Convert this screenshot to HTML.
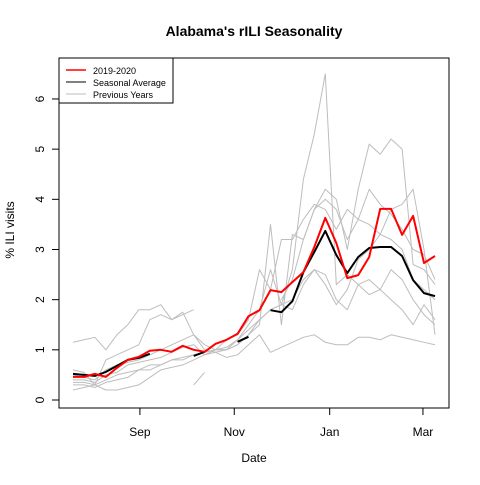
<!DOCTYPE html>
<html><head><meta charset="utf-8"><style>
body{margin:0;background:#fff;}
svg{font-family:"Liberation Sans",sans-serif;}
</style></head><body>
<svg id="chart" width="480" height="480" xmlns="http://www.w3.org/2000/svg">
<rect width="480" height="480" fill="#fff"/>
<text x="254" y="36" text-anchor="middle" font-size="14" font-weight="bold">Alabama's rILI Seasonality</text>
<text x="254" y="462" text-anchor="middle" font-size="12">Date</text>
<text x="14" y="230" text-anchor="middle" font-size="12" transform="rotate(-90 14 230)">% ILI visits</text>
<g id="grays"></g>
<g id="avg"></g>
<g id="cur"></g>
<g id="axes"></g>
<rect x="59" y="58" width="390" height="350" fill="none" stroke="#000"/>
<g>
<rect x="59" y="58" width="114" height="45" fill="#fff" stroke="#000"/>
<line x1="66" y1="70" x2="86" y2="70" stroke="#f00" stroke-width="1.5"/>
<text x="93" y="74" font-size="9">2019-2020</text>
<line x1="66" y1="82" x2="86" y2="82" stroke="#000"/>
<text x="93" y="86" font-size="9">Seasonal Average</text>
<line x1="66" y1="94" x2="86" y2="94" stroke="#bbb"/>
<text x="93" y="98" font-size="9">Previous Years</text>
</g>
</svg>
<script>
const current=[0.46,0.46,0.52,0.46,0.64,0.80,0.86,0.98,1.0,0.96,1.08,1.0,0.96,1.12,1.2,1.32,1.67,1.79,2.19,2.15,2.35,2.55,3.05,3.63,3.13,2.43,2.49,2.85,3.81,3.81,3.29,3.67,2.73,2.87];
const average=[0.52,0.50,0.48,0.56,0.68,0.80,0.84,0.92,null,null,null,0.88,0.96,null,null,1.16,1.26,null,1.79,1.75,1.97,2.55,2.95,3.37,2.89,2.53,2.85,3.03,3.05,3.05,2.87,2.39,2.13,2.07];
const g1=[0.35,0.35,0.3,0.4,0.5,0.55,0.6,0.6,0.7,0.8,0.8,0.9,0.95,1.0,1.0,1.1,1.3,1.6,1.8,1.9,2.6,4.4,5.3,6.5,2.3,2.5,2.3,2.1,2.2,2.0,1.8,1.5,1.9,1.6];
const g2=[1.15,1.2,1.25,1.0,1.3,1.5,1.8,1.8,1.9,1.6,1.7,1.8,null,null,null,null,null,null,null,2.0,2.4,3.2,3.8,4.2,4.0,3.0,4.2,5.1,4.9,5.2,5.0,2.7,2.6,2.3];
const g3=[0.6,0.55,0.3,0.8,0.9,1.0,1.1,1.6,1.7,1.6,1.75,1.3,1.1,1.0,1.2,1.3,1.6,2.6,2.2,3.2,3.2,3.6,3.9,3.8,3.4,3.8,3.6,3.5,3.3,3.2,3.0,2.4,2.2,2.0];
const g4=[0.5,0.45,0.4,0.6,0.7,0.75,0.8,0.9,1.0,1.1,1.2,1.3,1.0,0.95,1.0,1.1,1.3,1.5,3.5,1.5,3.3,3.2,3.8,4.0,3.8,3.2,3.6,4.2,3.9,3.7,3.4,3.0,2.9,2.4];
const g5=[0.3,0.3,0.25,0.35,0.4,0.45,0.6,0.7,0.7,0.8,0.85,0.9,0.95,1.0,1.0,1.2,1.5,1.8,2.6,1.9,1.8,2.3,2.6,2.5,2.0,1.8,2.3,2.4,2.2,2.6,2.4,2.0,1.7,1.5];
const g6=[0.2,0.25,0.3,0.2,0.2,0.25,0.3,0.45,0.6,0.65,0.7,0.8,0.9,0.95,0.85,0.9,1.1,1.3,0.95,1.05,1.15,1.25,1.3,1.15,1.1,1.1,1.25,1.25,1.2,1.3,1.25,1.2,1.15,1.1];
const g7=[0.4,0.4,0.35,0.5,0.55,0.7,0.75,0.8,0.85,0.95,1.05,1.1,0.9,1.0,1.05,1.2,1.4,1.6,1.8,1.9,2.0,2.4,2.6,2.3,1.9,2.2,2.8,3.0,3.3,3.8,3.9,4.2,3.0,1.3];
const g8=[null,null,null,null,null,null,null,null,null,null,null,0.3,0.55,null,null,null,null,null,null,null,null,null,null,null,null,null,null,null,null,null,null,null,null,null];
const yTicks=[0,1,2,3,4,5,6];
const xTickLabels=["Sep","Nov","Jan","Mar"];
const xTickIdx=[6.1,14.7,23.4,31.9];

const NS="http://www.w3.org/2000/svg";
function xs(i){return 73+i*10.97;}
function ys(v){return 400-v*50.17;}
function mk(t,a){const e=document.createElementNS(NS,t);for(const k in a)e.setAttribute(k,a[k]);return e;}
function drawSeries(g,arr,color,w,name){
  let segs=[],cur=[];
  arr.forEach((v,i)=>{if(v==null){if(cur.length)segs.push(cur);cur=[];}else cur.push(xs(i).toFixed(1)+","+ys(v).toFixed(1));});
  if(cur.length)segs.push(cur);
  segs.forEach(s=>{
    if(s.length<2)return;
    const p=mk("polyline",{points:s.join(" "),fill:"none",stroke:color,"stroke-width":w,"stroke-linejoin":"round"});
    
    
    g.appendChild(p);
  });
}
const gg=document.getElementById("grays");
[g1,g2,g3,g4,g5,g6,g7,g8].forEach((s,k)=>drawSeries(gg,s,"#bdbdbd",1,"previous-year-line"));
drawSeries(document.getElementById("avg"),average,"#000",2,"seasonal-average-line");
drawSeries(document.getElementById("cur"),current,"#f00",2,"current-season-line");
const ax=document.getElementById("axes");
yTicks.forEach(t=>{
  const y=ys(t);
  const l=mk("line",{x1:52,x2:59,y1:y,y2:y,stroke:"#000"});
  
  
  ax.appendChild(l);
  const tx=mk("text",{x:44,y:y,"font-size":12,"text-anchor":"middle",transform:"rotate(-90 44 "+y+")"});
  tx.textContent=t;
  
  
  ax.appendChild(tx);
});
xTickLabels.forEach((lab,k)=>{
  const x=xs(xTickIdx[k]);
  const l=mk("line",{x1:x,x2:x,y1:408,y2:415,stroke:"#000"});
  
  
  ax.appendChild(l);
  const tx=mk("text",{x:x,y:436,"font-size":12,"text-anchor":"middle"});
  tx.textContent=lab;
  
  
  ax.appendChild(tx);
});
</script>
</body></html>
